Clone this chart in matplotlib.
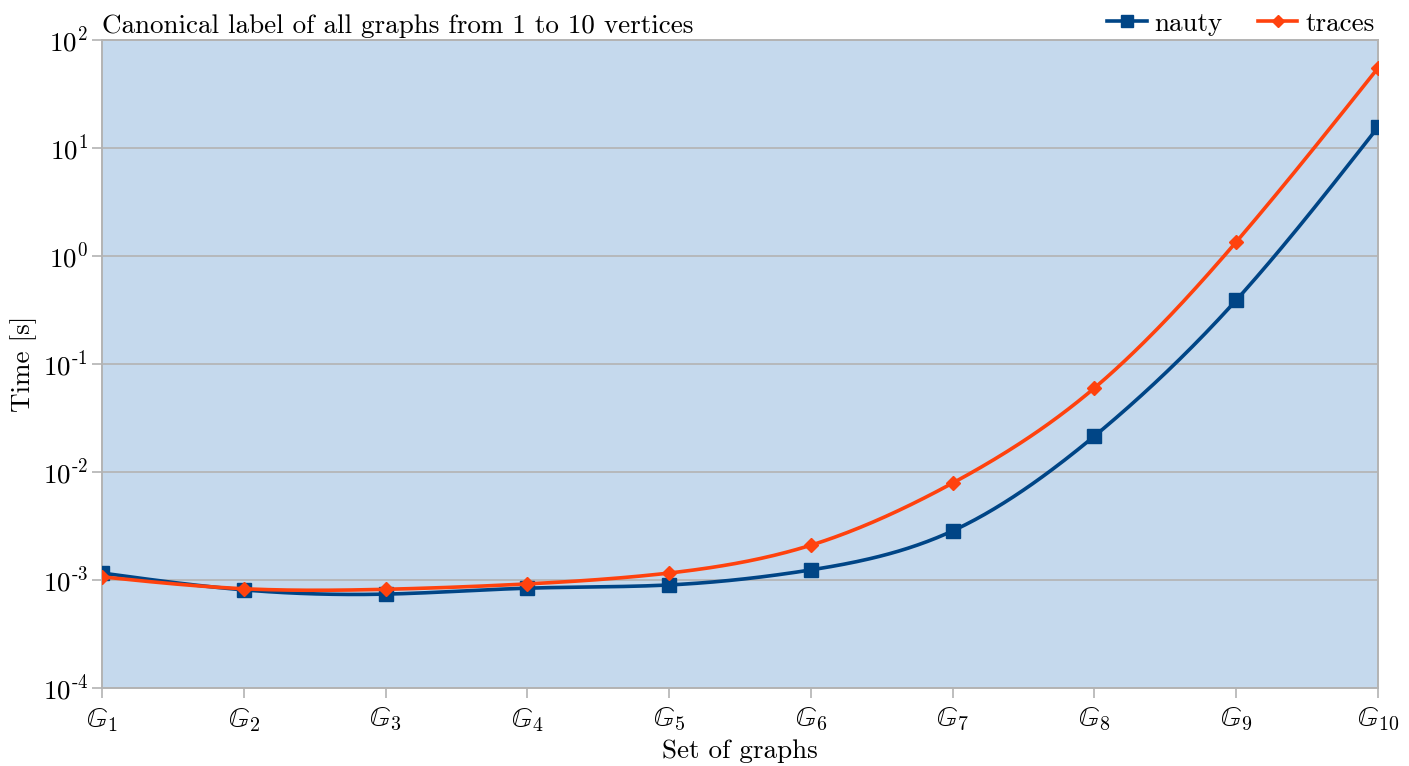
import numpy as np
import matplotlib.pyplot as plt

plt.rcParams['font.family'] = ['cmr10', 'DejaVu Serif']
plt.rcParams['mathtext.fontset'] = 'cm'
plt.rcParams['axes.formatter.use_mathtext'] = True

# graph sets G1..G10
sets = list(range(1, 11))
set_labels = [r'$\mathbb{G}_{%d}$' % i for i in sets]

# canonical labelling time in seconds
nauty = [1.16e-3, 8.1e-4, 7.4e-4, 8.4e-4, 9.0e-4, 1.24e-3, 2.85e-3, 2.15e-2, 0.39, 15.6]
traces = [1.07e-3, 8.3e-4, 8.2e-4, 9.2e-4, 1.16e-3, 2.1e-3, 7.9e-3, 6.0e-2, 1.35, 55.0]

yticks = [1e-4, 1e-3, 1e-2, 1e-1, 1e0, 1e1, 1e2]
ytick_labels = [r'$\mathrm{10^{\text{-}4}}$', r'$\mathrm{10^{\text{-}3}}$', r'$\mathrm{10^{\text{-}2}}$',
                r'$\mathrm{10^{\text{-}1}}$', r'$\mathrm{10^{0}}$', r'$\mathrm{10^{1}}$',
                r'$\mathrm{10^{2}}$']


def smooth(x, y, n=400):
    # natural cubic spline through the points, done in log space
    x = np.asarray(x, float)
    y = np.log10(np.asarray(y, float))
    k = len(x)
    h = np.diff(x)
    A = np.zeros((k, k))
    r = np.zeros(k)
    A[0, 0] = A[-1, -1] = 1
    for i in range(1, k - 1):
        A[i, i - 1] = h[i - 1]
        A[i, i] = 2 * (h[i - 1] + h[i])
        A[i, i + 1] = h[i]
        r[i] = 3 * ((y[i + 1] - y[i]) / h[i] - (y[i] - y[i - 1]) / h[i - 1])
    c = np.linalg.solve(A, r)
    xs = np.linspace(x[0], x[-1], n)
    ys = np.empty(n)
    for j, xv in enumerate(xs):
        i = min(np.searchsorted(x, xv, side='right') - 1, k - 2)
        d = xv - x[i]
        b = (y[i + 1] - y[i]) / h[i] - h[i] * (2 * c[i] + c[i + 1]) / 3
        dd = (c[i + 1] - c[i]) / (3 * h[i])
        ys[j] = y[i] + b * d + c[i] * d ** 2 + dd * d ** 3
    return xs, 10 ** ys


blue = '#004586'
orange = '#ff420e'
grey = '#b3b3b3'
fs = 19.5

fig = plt.figure(figsize=(14.09, 7.66), dpi=100)
ax = fig.add_axes([102 / 1409, 1 - 688 / 766, 1276 / 1409, 648 / 766])
ax.set_facecolor('#c5d9ed')

xs, ys = smooth(sets, nauty)
ax.plot(xs, ys, color=blue, lw=2.6, zorder=3)
ax.plot(sets, nauty, ls='none', marker='s', ms=10.5, color=blue, zorder=4)
xs, ys = smooth(sets, traces)
ax.plot(xs, ys, color=orange, lw=2.6, zorder=5)
ax.plot(sets, traces, ls='none', marker='D', ms=7, color=orange, zorder=6)

# legend handles
ax.plot([], [], color=blue, lw=2.6, marker='s', ms=8, label='nauty')
ax.plot([], [], color=orange, lw=2.6, marker='D', ms=6, label='traces')

ax.set_yscale('log')
ax.set_ylim(1e-4, 1e2)
ax.set_xlim(1, 10)
ax.set_yticks(yticks)
ax.set_yticklabels(ytick_labels)
ax.yaxis.set_minor_locator(plt.NullLocator())
ax.set_xticks(sets)
ax.set_xticklabels(set_labels)
ax.tick_params(axis='both', colors=grey, labelcolor='black', labelsize=fs,
               length=7, width=1.2)
ax.tick_params(axis='x', pad=6, labelsize=fs + 1)
ax.tick_params(axis='y', pad=3)
ax.grid(axis='y', color=grey, lw=1.2)
for s in ax.spines.values():
    s.set_color(grey)
    s.set_linewidth(1.4)

ax.set_title('Canonical label of all graphs from 1 to 10 vertices', loc='left',
             fontsize=fs, pad=5)
ax.set_xlabel('Set of graphs', fontsize=fs, labelpad=4)
ax.set_ylabel('Time [s]', fontsize=fs, labelpad=4)
ax.legend(loc='lower right', bbox_to_anchor=(1.006, 0.99), ncol=2, frameon=False,
          fontsize=fs, handlelength=1.45, handletextpad=0.3, columnspacing=1.3,
          borderaxespad=0.0)

fig.savefig('out.png', dpi=100)
